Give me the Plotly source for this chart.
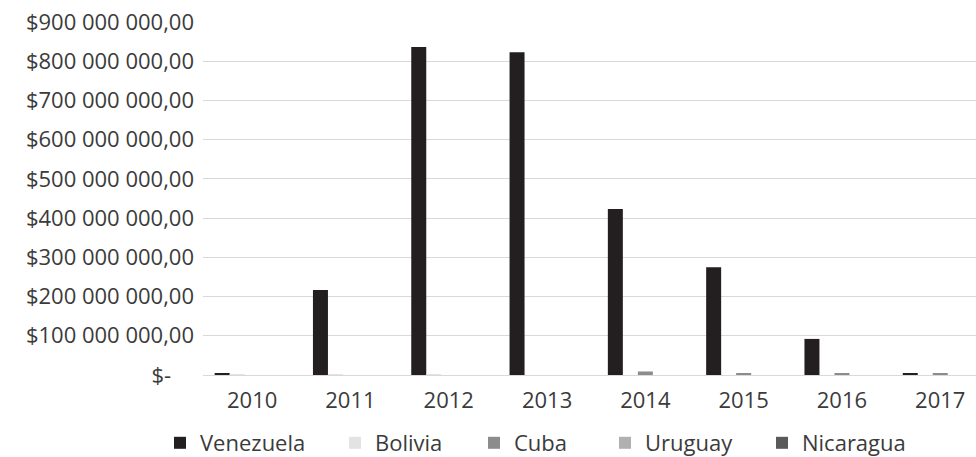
import plotly.graph_objects as go

# Annual amounts per country, 2010-2017
years = ["2010", "2011", "2012", "2013", "2014", "2015", "2016", "2017"]
venezuela = [4e6, 217e6, 836e6, 823e6, 423e6, 275e6, 92e6, 4e6]
bolivia = [2e6, 2e6, 2e6, 0, 0, 0, 0, 0]
cuba = [0, 0, 0, 0, 9e6, 4e6, 3e6, 3e6]
uruguay = [0, 0, 0, 0, 0, 0, 0, 0]
nicaragua = [0, 0, 0, 0, 0, 0, 0, 0]

series_names = ["Venezuela", "Bolivia", "Cuba", "Uruguay", "Nicaragua"]
series_values = [venezuela, bolivia, cuba, uruguay, nicaragua]
series_colors = ["#231f20", "#e3e3e3", "#8c8c8c", "#b0b0b0", "#5a5a5a"]

# y-axis ticks in accounting format
y_tickvals = [0, 100e6, 200e6, 300e6, 400e6, 500e6, 600e6, 700e6, 800e6, 900e6]
y_ticktext = ["$-\u00a0\u00a0\u00a0\u00a0",
              "$100 000 000,00", "$200 000 000,00", "$300 000 000,00",
              "$400 000 000,00", "$500 000 000,00", "$600 000 000,00",
              "$700 000 000,00", "$800 000 000,00", "$900 000 000,00"]

W, H = 976, 457
ML, MR, MT, MB = 203, 0, 22, 82
plot_w = W - ML - MR
plot_h = H - MT - MB
cat_w = 98.3

FONT = "Open Sans"
TXT = "#3b3b3b"

fig = go.Figure()
legend_ids = ["legend", "legend2", "legend3", "legend4", "legend5"]
for name, vals, color, lg in zip(series_names, series_values, series_colors, legend_ids):
    fig.add_bar(x=years, y=vals, name=name, marker_color=color,
                marker_line_width=0, legend=lg)

# one legend box per entry, laid out along the bottom
legend_left_px = [160, 335, 474, 605, 762]
legend_y = (MT + plot_h - 443) / plot_h
layout_legends = {}
for lg, px in zip(legend_ids, legend_left_px):
    layout_legends[lg] = dict(
        x=(px - ML) / plot_w, y=legend_y, xanchor="left", yanchor="middle",
        orientation="h", bgcolor="rgba(0,0,0,0)", borderwidth=0,
        font=dict(family=FONT, size=22, color=TXT),
    )

fig.update_layout(
    width=W, height=H,
    margin=dict(l=ML, r=MR, t=MT, b=MB, pad=0, autoexpand=False),
    paper_bgcolor="white", plot_bgcolor="white",
    barmode="group", bargap=0.237, bargroupgap=0,
    font=dict(family=FONT, size=22, color=TXT),
    showlegend=True,
    xaxis=dict(
        type="category", range=[-0.5, -0.5 + plot_w / cat_w],
        showgrid=False, showline=False, ticks="",
        tickfont=dict(family=FONT, size=22, color=TXT),
        ticklabelstandoff=10,
    ),
    yaxis=dict(
        range=[0, 900e6], tickvals=y_tickvals, ticktext=y_ticktext,
        showgrid=True, gridcolor="#d9d9d9", gridwidth=1,
        zeroline=True, zerolinecolor="#d9d9d9", zerolinewidth=1,
        showline=False, ticks="",
        tickfont=dict(family=FONT, size=22, color=TXT),
        ticklabelstandoff=8,
    ),
    **layout_legends,
)

fig.write_html("out.html")
